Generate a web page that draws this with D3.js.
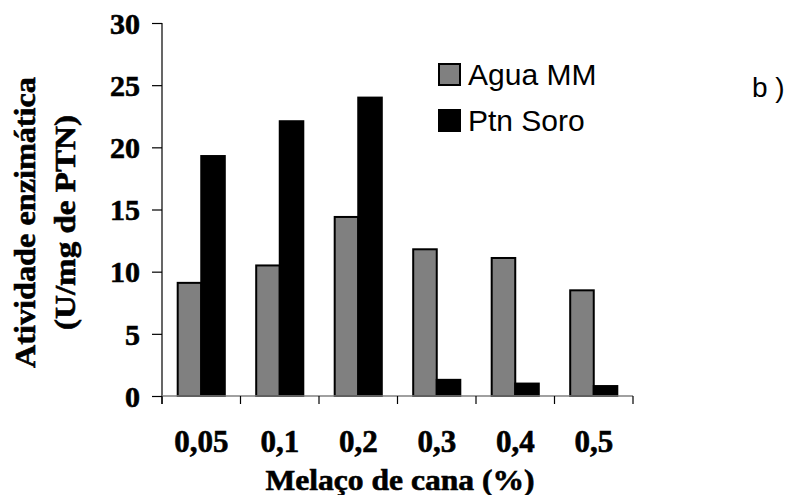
<!DOCTYPE html>
<html>
<head>
<meta charset="utf-8">
<script src="https://cdn.jsdelivr.net/npm/d3@7"></script>
<style>
body { margin: 0; background: #fff; }
.serif { font-family: "Liberation Serif", "Times New Roman", serif; font-weight: bold; stroke: #000; stroke-width: 0.6px; }
.sans { font-family: "Liberation Sans", Arial, sans-serif; }
</style>
</head>
<body>
<script>
// dados
var categorias = ["0,05", "0,1", "0,2", "0,3", "0,4", "0,5"];
var series = ["Agua MM", "Ptn Soro"];
var aguaMM = [9.1, 10.5, 14.4, 11.8, 11.1, 8.5];
var ptnSoro = [19.3, 22.1, 24.0, 1.3, 1.0, 0.8];
var yTicks = [0, 5, 10, 15, 20, 25, 30];
var cores = ["#808080", "#000000"];

var W = 789, H = 495;
var x0 = 162, x1 = 633, yTop = 23, yBot = 396;

var svg = d3.select("body").append("svg")
    .attr("width", W).attr("height", H);

var x = d3.scaleBand().domain(categorias).range([x0, x1]).padding(0);
var xs = d3.scaleBand().domain(series)
    .range([15.7, x.bandwidth() - 15.7]).padding(0);
var y = d3.scaleLinear().domain([0, 30]).range([yBot, yTop]);

var dados = categorias.map(function(c, i) {
    return { cat: c, vals: [aguaMM[i], ptnSoro[i]] };
});

// barras
var grupos = svg.selectAll(".grupo")
    .data(dados).enter().append("g")
    .attr("transform", d => "translate(" + x(d.cat) + ",0)");

grupos.selectAll("rect")
    .data(d => d.vals.map((v, j) => ({ s: series[j], v: v, j: j })))
    .enter().append("rect")
    .attr("x", d => xs(d.s))
    .attr("y", d => y(d.v))
    .attr("width", xs.bandwidth())
    .attr("height", d => y(0) - y(d.v))
    .attr("fill", d => cores[d.j])
    .attr("stroke", "#000")
    .attr("stroke-width", 2);

// eixo y
var gy = svg.append("g")
    .attr("transform", "translate(" + x0 + ",0)")
    .call(d3.axisLeft(y).tickValues(yTicks).tickSize(10).tickPadding(12).tickSizeOuter(0));
gy.select(".domain").remove();
gy.append("line").attr("x1", 0).attr("x2", 0)
    .attr("y1", yTop).attr("y2", yBot + 8).attr("stroke", "#000").attr("stroke-width", 1.2);
gy.selectAll(".tick line").attr("stroke", "#000").attr("stroke-width", 1.2);
gy.selectAll(".tick text")
    .attr("class", "serif")
    .style("font-size", "30px")
    .attr("fill", "#000")
    .attr("dy", "0.34em");

// eixo x
var gx = svg.append("g").attr("transform", "translate(0," + yBot + ")");
gx.append("line").attr("x1", x0).attr("x2", x1)
    .attr("stroke", "#808080").attr("stroke-width", 1.5);
var bordas = categorias.map(c => x(c)).concat([x1]);
gx.selectAll(".tk").data(bordas).enter().append("line")
    .attr("x1", d => d).attr("x2", d => d)
    .attr("y1", 0).attr("y2", 8)
    .attr("stroke", "#000").attr("stroke-width", 1.2);
gx.selectAll(".lbl").data(categorias).enter().append("text")
    .attr("class", "serif")
    .attr("x", d => x(d) + x.bandwidth() / 2)
    .attr("y", 56)
    .attr("text-anchor", "middle")
    .style("font-size", "31px")
    .text(d => d);

// títulos
svg.append("text")
    .attr("class", "serif")
    .attr("x", 400).attr("y", 490)
    .attr("text-anchor", "middle")
    .style("font-size", "29px")
    .attr("textLength", 269).attr("lengthAdjust", "spacingAndGlyphs")
    .text("Melaço de cana (%)");

var ty = svg.append("g").attr("transform", "translate(0,222.5) rotate(-90)");
ty.append("text")
    .attr("class", "serif")
    .attr("x", 0).attr("y", 35)
    .attr("text-anchor", "middle")
    .style("font-size", "30px")
    .attr("textLength", 291).attr("lengthAdjust", "spacingAndGlyphs")
    .text("Atividade enzimática");
ty.append("text")
    .attr("class", "serif")
    .attr("x", 0).attr("y", 75)
    .attr("text-anchor", "middle")
    .style("font-size", "30px")
    .attr("textLength", 215).attr("lengthAdjust", "spacingAndGlyphs")
    .text("(U/mg de PTN)");

// legenda
var leg = svg.selectAll(".leg").data(series).enter().append("g")
    .attr("transform", (d, i) => "translate(439," + (64 + i * 46) + ")");
leg.append("rect")
    .attr("width", 21).attr("height", 21)
    .attr("fill", (d, i) => cores[i])
    .attr("stroke", "#000").attr("stroke-width", 2);
leg.append("text")
    .attr("class", "sans")
    .attr("x", 29).attr("y", 21)
    .style("font-size", "30px")
    .text(d => d);

svg.append("text")
    .attr("class", "sans")
    .attr("x", 752).attr("y", 97)
    .style("font-size", "28px")
    .text("b )");
</script>
</body>
</html>
